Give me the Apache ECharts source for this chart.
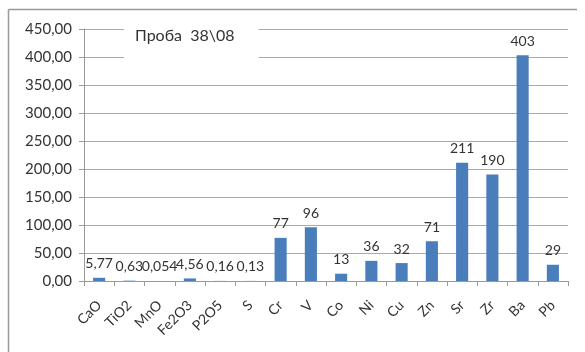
<!DOCTYPE html>
<html><head><meta charset="utf-8">
<script src="https://cdn.jsdelivr.net/npm/echarts@6/dist/echarts.min.js"></script>
<style>html,body{margin:0;padding:0;background:#fff}#c{width:585px;height:352px}</style>
</head><body><div id="c"></div>
<script>
var categories = ["CaO","TiO2","MnO","Fe2O3","P2O5","S","Cr","V","Co","Ni","Cu","Zn","Sr","Zr","Ba","Pb"];
var values = [5.77,0.63,0.054,4.56,0.16,0.13,77,96,13,36,32,71,211,190,403,29];
var valueLabels = ["5,77","0,63","0,054","4,56","0,16","0,13","77","96","13","36","32","71","211","190","403","29"];
var yTicks = [0,50,100,150,200,250,300,350,400,450];
var titleText = "Проба  38\\08";

var chart = echarts.init(document.getElementById('c'));
var font = 'Lato, "Open Sans", sans-serif';
chart.setOption({
  animation:false,
  textStyle:{fontFamily:font},
  grid:{left:84,right:17,top:29,bottom:71},
  title:{text:titleText,left:124,top:21,padding:[7,24,16,11],backgroundColor:'#fff',
    textStyle:{fontSize:16,fontWeight:'normal',color:'#333',fontFamily:font}},
  graphic:[
    {type:'line',shape:{x1:8.5,y1:9.5,x2:577,y2:9.5},style:{stroke:'#999',lineWidth:1.5},z:-1},
    {type:'line',shape:{x1:8.5,y1:9.5,x2:8.5,y2:352},style:{stroke:'#999',lineWidth:1.5},z:-1}
  ],
  xAxis:{type:'category',data:categories,
    axisLine:{lineStyle:{color:'#999'}},
    axisTick:{show:true,alignWithLabel:false,length:5,lineStyle:{color:'#999'}},
    axisLabel:{rotate:45,margin:22,fontSize:14,color:'#333',interval:0}},
  yAxis:{type:'value',min:yTicks[0],max:yTicks[yTicks.length-1],interval:50,
    axisLine:{show:true,lineStyle:{color:'#999'}},
    axisTick:{show:true,length:5,lineStyle:{color:'#999'}},
    splitLine:{lineStyle:{color:'#aaa'}},
    axisLabel:{fontSize:15,color:'#333',margin:12,formatter:function(v){return v.toFixed(2).replace('.',',');}}},
  series:[{type:'bar',data:values,barWidth:'40%',
    itemStyle:{color:'#4a7ebb'},
    label:{show:true,position:'top',distance:7,fontSize:14,color:'#333',
      formatter:function(p){return valueLabels[p.dataIndex];}}}]
});
</script></body></html>
